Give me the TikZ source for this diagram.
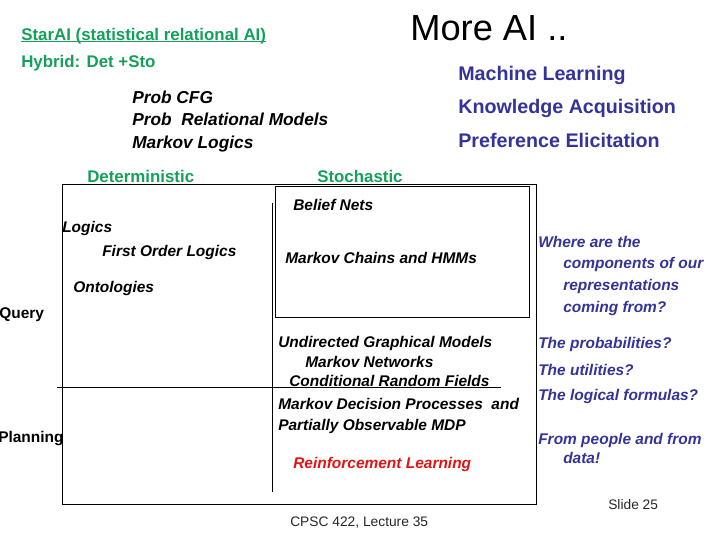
\documentclass[tikz,border=0pt]{standalone}
\usepackage{fontspec}
\setmainfont{Liberation Sans}
\usepackage{xcolor}
\usepackage{tikz}

\definecolor{slidegreen}{RGB}{20,160,90}
\definecolor{slideblue}{RGB}{51,51,153}
\definecolor{slidered}{RGB}{225,20,20}

\begin{document}
\begin{tikzpicture}[
    x=0.025cm, y=-0.025cm,
    txt/.style={anchor=base west, inner sep=0pt},
    green1/.style={txt, text=slidegreen, font=\fontsize{12}{14}\selectfont\bfseries},
    blue1/.style={txt, text=slideblue, font=\fontsize{14}{16}\selectfont\bfseries},
    blue2/.style={txt, text=slideblue, font=\fontsize{11}{13}\selectfont\bfseries\itshape},
    black1/.style={txt, font=\fontsize{12.3}{14}\selectfont\bfseries\itshape},
    black2/.style={txt, font=\fontsize{11}{13}\selectfont\bfseries\itshape},
    side/.style={txt, font=\fontsize{11}{13}\selectfont\bfseries},
    foot/.style={txt, text=black!85, font=\fontsize{9.8}{12}\selectfont},
    frameline/.style={draw=black, line width=0.7pt}
]
    \useasboundingbox (0,0) rectangle (720,540);

    \node [txt, font=\fontsize{25.8}{30}\selectfont] (n1) at (410,40) {More AI ..};
    \node [green1] (n2) at (21,40) {StarAI (statistical relational AI)};
    \draw [slidegreen, line width=0.7pt] ([yshift=-1.2pt]n2.base west) -- ([yshift=-1.2pt]n2.base east);
    \node [green1] (n3) at (21,67) {Hybrid: Det +Sto};

    \node [black1] (n4) at (132,103) {Prob CFG};
    \node [black1] (n5) at (132,125) {Prob\ \ Relational Models};
    \node [black1] (n6) at (132,148) {Markov Logics};

    \node [blue1] (n7) at (458,80) {Machine Learning};
    \node [blue1] (n8) at (458,113) {Knowledge Acquisition};
    \node [blue1] (n9) at (458,147) {Preference Elicitation};

    \node [green1] (n10) at (87,182) {Deterministic};
    \node [green1] (n11) at (317,182) {Stochastic};

    \draw [frameline] (62,184) rectangle (536,504);
    \draw [frameline] (275,186) rectangle (529,317);
    \draw [frameline] (272,203) -- (272,492);
    \draw [frameline] (57,387) -- (501,387);

    \node [black2] (n12) at (62,232) {Logics};
    \node [black2] (n13) at (102,256) {First Order Logics};
    \node [black2] (n14) at (73,292) {Ontologies};
    \node [side] (n15) at (-1,318) {Query};
    \node [side] (n16) at (-2,442) {Planning};

    \node [black2] (n17) at (293,210) {Belief Nets};
    \node [black2] (n18) at (285,263) {Markov Chains and HMMs};
    \node [black2] (n19) at (278,347) {Undirected Graphical Models};
    \node [black2] (n20) at (305,367) {Markov Networks};
    \node [black2] (n21) at (289,386) {Conditional Random Fields};
    \node [black2] (n22) at (278,409) {Markov Decision Processes\ \ and};
    \node [black2] (n23) at (278,430) {Partially Observable MDP};
    \node [black2, text=slidered] (n24) at (293,468) {Reinforcement Learning};

    \node [blue2] (n25) at (538,247) {Where are the};
    \node [blue2] (n26) at (563,268) {components of our};
    \node [blue2] (n27) at (563,290) {representations};
    \node [blue2] (n28) at (563,312) {coming from?};
    \node [blue2] (n29) at (538,348) {The probabilities?};
    \node [blue2] (n30) at (538,375) {The utilities?};
    \node [blue2] (n31) at (538,400) {The logical formulas?};
    \node [blue2] (n32) at (538,444) {From people and from};
    \node [blue2] (n33) at (563,463) {data!};

    \node [foot] (n34) at (290,526) {CPSC 422, Lecture 35};
    \node [foot] (n35) at (608,509) {Slide 25};
\end{tikzpicture}
\end{document}
